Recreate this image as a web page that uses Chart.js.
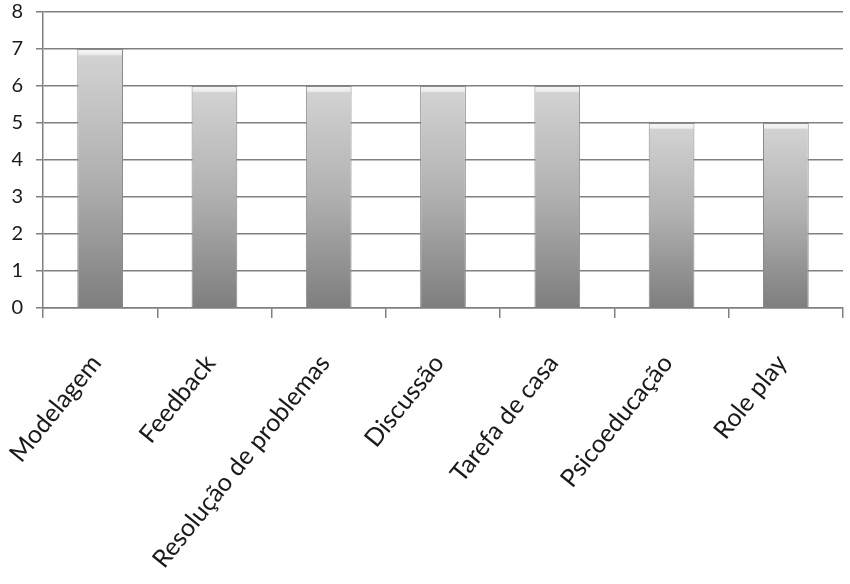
<!DOCTYPE html>
<html>
<head>
<meta charset="utf-8">
<script src="https://cdn.jsdelivr.net/npm/chart.js@4/dist/chart.umd.min.js"></script>
<style>
html,body{margin:0;padding:0;background:#fff;}
#wrap{width:850px;height:584px;position:relative;}
</style>
</head>
<body>
<div id="wrap"><canvas id="c" width="850" height="584"></canvas></div>
<script>
const categories = ["Modelagem","Feedback","Resolução de problemas","Discussão","Tarefa de casa","Psicoeducação","Role play"];
const values = [7,6,6,6,6,5,5];
const yTicks = [0,1,2,3,4,5,6,7,8];

function barFill(ctx){
  const chart = ctx.chart;
  if(!chart.chartArea || !chart.scales.y) return '#bbbbbb';
  const y = chart.scales.y;
  const top = y.getPixelForValue(ctx.raw);
  const bottom = y.getPixelForValue(0);
  const g = chart.ctx.createLinearGradient(0, top, 0, bottom);
  const h = bottom - top;
  const s = Math.min(0.06, 5 / h);
  g.addColorStop(0, '#f6f6f6');
  g.addColorStop(s, '#eeeeee');
  g.addColorStop(s + 0.008, '#d2d2d2');
  g.addColorStop(0.5, '#b0b0b0');
  g.addColorStop(1, '#7e7e7e');
  return g;
}

new Chart(document.getElementById('c'), {
  type: 'bar',
  data: {
    labels: categories,
    datasets: [{
      data: values,
      backgroundColor: barFill,
      borderColor: '#8a8a8a',
      borderWidth: 1,
      barPercentage: 0.8,
      categoryPercentage: 0.5
    }]
  },
  options: {
    responsive: false,
    animation: false,
    devicePixelRatio: 1,
    layout: { padding: { top: 0, right: 7, left: 0, bottom: 0 } },
    plugins: { legend: { display: false }, tooltip: { enabled: false } },
    scales: {
      y: {
        min: 0, max: 8,
        afterBuildTicks: (s) => { s.ticks = yTicks.map(v => ({ value: v })); },
        afterFit: (s) => { s.width = 43; s.paddingTop = 12; s.paddingBottom = 0; },
        border: { display: true, color: '#808080', width: 1.5 },
        grid: { color: '#808080', lineWidth: 1.5, tickLength: 7, drawTicks: true },
        ticks: {
          color: '#1a1a1a', padding: 13,
          font: { family: 'Lato', size: 20 }
        }
      },
      x: {
        afterFit: (s) => { s.height = 276; s.paddingLeft = 0; s.paddingRight = 0; },
        border: { display: true, color: '#808080', width: 1.5 },
        grid: { offset: true, drawOnChartArea: false, drawTicks: true, tickLength: 10, color: '#808080', lineWidth: 1.5 },
        ticks: {
          color: '#1a1a1a', padding: 31, labelOffset: -4,
          maxRotation: 51, minRotation: 51, autoSkip: false,
          font: { family: 'Lato', size: 25 }
        }
      }
    }
  }
});
</script>
</body>
</html>
